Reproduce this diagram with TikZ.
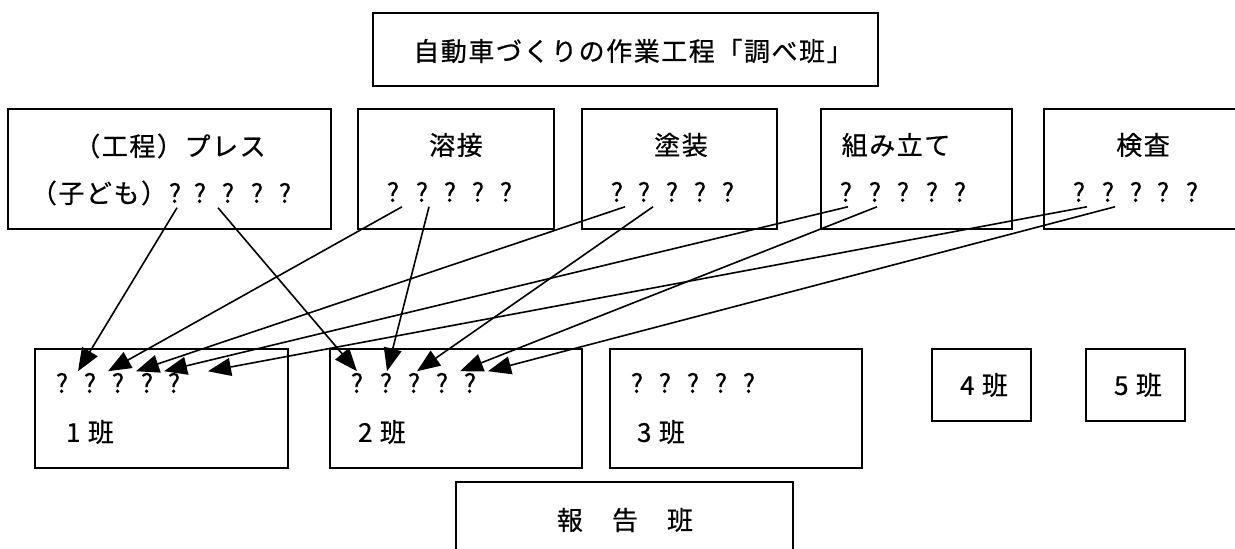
\documentclass[tikz,border=0pt]{standalone}
\usepackage{fontspec}
\setmainfont{Noto Sans CJK JP}
\newfontfamily\jf{Noto Sans CJK JP}[LetterSpace=6,FakeBold=0.6]
\newfontfamily\qf{Noto Sans CJK JP}[FakeBold=0.3]
\usetikzlibrary{arrows.meta}
\begin{document}
\begin{tikzpicture}[x=1pt,y=-1pt,
  box/.style={draw, line width=1.5pt, inner sep=0pt},
  txt/.style={inner sep=0pt, font=\fontsize{26pt}{30pt}\selectfont\jf},
  q/.style={inner sep=0pt, font=\fontsize{26pt}{30pt}\selectfont\qf},
  arr/.style={line width=1.6pt, -{Triangle[length=23pt,width=18pt]}}]
\useasboundingbox (0,0) rectangle (1235,549);
\clip (0,0) rectangle (1235,549);
\fill[white] (0,0) rectangle (1235,549);
% boxes
\node[box, minimum width=505pt, minimum height=73pt] (title) at (625.5,49.5) {};
\node[box, minimum width=323pt, minimum height=120pt] (p1) at (169.5,169) {};
\node[box, minimum width=196pt, minimum height=120pt] (p2) at (456,169) {};
\node[box, minimum width=195pt, minimum height=120pt] (p3) at (679.5,169) {};
\node[box, minimum width=191pt, minimum height=120pt] (p4) at (916.5,169) {};
\node[box, minimum width=198pt, minimum height=120pt] (p5) at (1143,169) {};
\node[box, minimum width=253pt, minimum height=119pt] (g1) at (161.5,408.5) {};
\node[box, minimum width=252pt, minimum height=119pt] (g2) at (456,408.5) {};
\node[box, minimum width=252pt, minimum height=119pt] (g3) at (736,408.5) {};
\node[box, minimum width=99pt, minimum height=72pt] (g4) at (981.5,385) {};
\node[box, minimum width=99pt, minimum height=72pt] (g5) at (1135.5,385) {};
\node[box, minimum width=337pt, minimum height=88pt] (rep) at (624.5,526) {};
% texts
\node[txt] (ttitle) at (633,51) {自動車づくりの作業工程「調べ班」};
\node[txt] (tp1a) at (170,146) {（工程）プレス};
\node[txt] (tp1b) at (99,193) {（子ども）};
\node[txt] (tp2) at (456,145) {溶接};
\node[txt] (tp3) at (681,145) {塗装};
\node[txt] (tp4) at (896,145) {組み立て};
\node[txt] (tp5) at (1143,145) {検査};
\node[txt] (tg1) at (90,432) {1 班};
\node[txt] (tg2) at (382,432) {2 班};
\node[txt] (tg3) at (661,432) {3 班};
\node[txt] (tg4) at (984,385) {4 班};
\node[txt] (tg5) at (1138,385) {5 班};
\node[txt] (trep) at (625,520) {報　告　班};
% question marks
\foreach \x [count=\i] in {175,200,228,257,285} \node[q] (p1q\i) at (\x,193) {?};
\foreach \x [count=\i] in {393,422,450,478,506} \node[q] (p2q\i) at (\x,192) {?};
\foreach \x [count=\i] in {617,644,672,700,728} \node[q] (p3q\i) at (\x,192) {?};
\foreach \x [count=\i] in {846,875,903,932,960} \node[q] (p4q\i) at (\x,192) {?};
\foreach \x [count=\i] in {1079,1108,1136,1163,1192} \node[q] (p5q\i) at (\x,192) {?};
\foreach \x [count=\i] in {62,90,118,147,174} \node[q] (g1q\i) at (\x,383) {?};
\foreach \x [count=\i] in {357,386,414,442,470} \node[q] (g2q\i) at (\x,383) {?};
\foreach \x [count=\i] in {637,665,693,721,749} \node[q] (g3q\i) at (\x,383) {?};
% arrows
\draw[arr] ([xshift=2pt,yshift=-4.5pt]p1q1.south) -- ([xshift=16pt,yshift=1.5pt]g1q1.north);
\draw[arr] ([xshift=18pt,yshift=-4.5pt]p1q2.south) -- ([xshift=0pt,yshift=1.5pt]g2q1.north);
\draw[arr] ([xshift=9pt,yshift=-4.5pt]p2q1.south) -- ([xshift=18pt,yshift=1.5pt]g1q2.north);
\draw[arr] ([xshift=7pt,yshift=-4.5pt]p2q2.south) -- ([xshift=1pt,yshift=1.5pt]g2q2.north);
\draw[arr] ([xshift=8pt,yshift=-4.5pt]p3q1.south) -- ([xshift=18pt,yshift=1.5pt]g1q3.north);
\draw[arr] ([xshift=9pt,yshift=-4.5pt]p3q2.south) -- ([xshift=3pt,yshift=1.5pt]g2q3.north);
\draw[arr] ([xshift=2pt,yshift=-4.5pt]p4q1.south) -- ([xshift=17pt,yshift=1.5pt]g1q4.north);
\draw[arr] ([xshift=2pt,yshift=-4.5pt]p4q2.south) -- ([xshift=-10pt,yshift=1.5pt]g2q5.north);
\draw[arr] ([xshift=8pt,yshift=-4.5pt]p5q1.south) -- ([xshift=34pt,yshift=1.5pt]g1q5.north);
\draw[arr] ([xshift=7pt,yshift=-4.5pt]p5q2.south) -- ([xshift=18pt,yshift=1.5pt]g2q5.north);
\end{tikzpicture}
\end{document}
